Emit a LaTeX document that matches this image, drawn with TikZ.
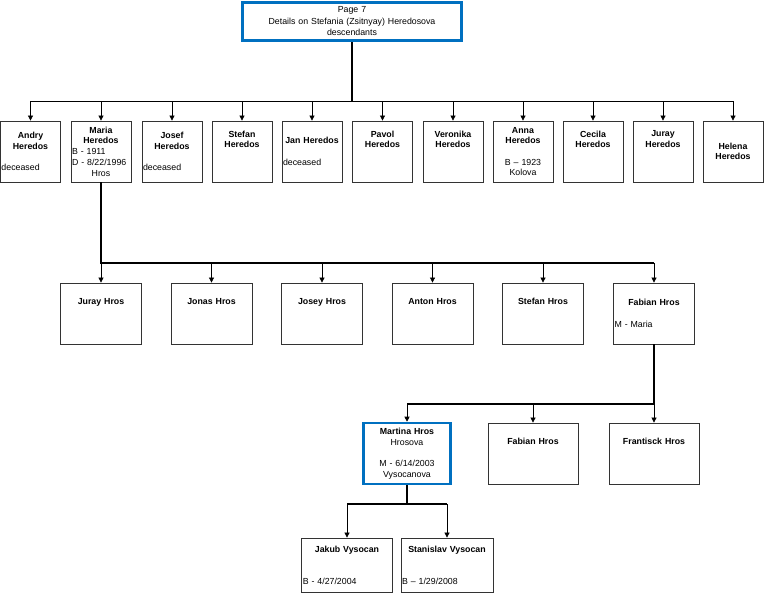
\documentclass[tikz,border=0pt]{standalone}
\usepackage{fontspec}
\setmainfont{Liberation Sans}
\usepackage{tikz}
\usetikzlibrary{arrows.meta}
\usepackage{xcolor}
\definecolor{chartblue}{RGB}{0,112,192}
\newcommand{\lft}[1]{\makebox[\hsize][l]{#1}}

\begin{document}
\begin{tikzpicture}[x=1pt,y=-1pt,
    person/.style={draw=black!80, line width=0.8pt, rectangle, align=center, inner xsep=1pt, inner ysep=0pt, minimum height=61pt, font=\fontsize{8.8}{10.7}\selectfont},
    gen1/.style={person, text width=58pt},
    gen2/.style={person, text width=79pt},
    gen3/.style={person, text width=88pt},
    gen4/.style={person, text width=88.5pt, minimum height=54pt},
    focus/.style={draw=chartblue, line width=2.6pt},
    trunk/.style={line width=1.7pt},
    bus/.style={line width=1.1pt},
    drop/.style={-{Triangle[length=5pt,width=5pt]}, line width=0.7pt}]
    \useasboundingbox (0,0) rectangle (765,601);
    % Stefania's descendants, page 7
    \node[person, focus, text width=217pt, minimum height=38.5pt, font=\fontsize{8.8}{11.5}\selectfont] (top) at (352,21.5) {Page 7\\Details on Stefania (Zsitnyay) Heredosova\\descendants};

    \node[gen1] (andry) at (30.5,151.5) {\textbf{Andry}\\\textbf{Heredos}\\\strut\\\lft{deceased}};
    \node[gen1] (maria) at (101,151.5) {\textbf{Maria}\\\textbf{Heredos}\\\lft{B - 1911}\\\lft{D - 8/22/1996}\\Hros};
    \node[gen1] (josef) at (172,151.5) {\textbf{Josef}\\\textbf{Heredos}\\\strut\\\lft{deceased}};
    \node[gen1] (stefan) at (242,151.5) {\textbf{Stefan}\\\textbf{Heredos}\\\strut\\\strut};
    \node[gen1] (jan) at (312,151.5) {\textbf{Jan Heredos}\\\strut\\\lft{deceased}};
    \node[gen1] (pavol) at (382.5,151.5) {\textbf{Pavol}\\\textbf{Heredos}\\\strut\\\strut};
    \node[gen1] (veronika) at (453,151.5) {\textbf{Veronika}\\\textbf{Heredos}\\\strut\\\strut};
    \node[gen1] (anna) at (523,151.5) {\textbf{Anna}\\\textbf{Heredos}\\\strut\\B -- 1923\\Kolova};
    \node[gen1] (cecila) at (593,151.5) {\textbf{Cecila}\\\textbf{Heredos}\\\strut\\\strut};
    \node[gen1] (juray) at (663,151.5) {\textbf{Juray}\\\textbf{Heredos}\\\strut\\\strut};
    \node[gen1] (helena) at (733,151.5) {\textbf{Helena}\\\textbf{Heredos}};

    \node[gen2] (jurayh) at (101,313.5) {\textbf{Juray Hros}\\\strut\\\strut};
    \node[gen2] (jonas) at (211.5,313.5) {\textbf{Jonas Hros}\\\strut\\\strut};
    \node[gen2] (josey) at (322,313.5) {\textbf{Josey Hros}\\\strut\\\strut};
    \node[gen2] (anton) at (432.5,313.5) {\textbf{Anton Hros}\\\strut\\\strut};
    \node[gen2] (stefanh) at (543,313.5) {\textbf{Stefan Hros}\\\strut\\\strut};
    \node[gen2] (fabian) at (654,313.5) {\textbf{Fabian Hros}\\\strut\\\lft{M - Maria}};

    \node[gen3, focus, text width=85.5pt] (martina) at (407,453.5) {\textbf{Martina Hros}\\Hrosova\\\strut\\M - 6/14/2003\\Vysocanova};
    \node[gen3] (fabianj) at (533,453.5) {\textbf{Fabian Hros}\\\strut\\\strut};
    \node[gen3] (frantisck) at (654,453.5) {\textbf{Frantisck Hros}\\\strut\\\strut};

    \node[gen4] (jakub) at (347,565) {\textbf{Jakub Vysocan}\\\strut\\\strut\\\lft{B - 4/27/2004}};
    \node[gen4, text width=90pt] (stanislav) at (447,565) {\textbf{Stanislav Vysocan}\\\strut\\\strut\\\lft{B -- 1/29/2008}};

    \coordinate (busA) at (0,101.5);
    \coordinate (busB) at (0,263);
    \coordinate (busC) at (0,404);
    \coordinate (busD) at (0,504);

    \draw[trunk] (top.south) -- (top.south |- busA);
    \draw[bus] (andry.north |- busA) -- (helena.north |- busA);
    \foreach \n in {andry,maria,josef,stefan,jan,pavol,veronika,anna,cecila,juray,helena}
        \draw[drop] (\n.north |- busA) -- (\n.north);

    \draw[trunk] (maria.south) -- (maria.south |- busB) -- (fabian.north |- busB);
    \foreach \n in {jurayh,jonas,josey,anton,stefanh,fabian}
        \draw[drop] (\n.north |- busB) -- (\n.north);

    \draw[trunk] (fabian.south) -- (fabian.south |- busC);
    \draw[bus] (martina.north |- busC) -- (fabian.south |- busC);
    \foreach \n in {martina,fabianj,frantisck}
        \draw[drop] (\n.north |- busC) -- (\n.north);

    \draw[bus] (martina.south) -- (martina.south |- busD);
    \draw[bus] (jakub.north |- busD) -- (stanislav.north |- busD);
    \foreach \n in {jakub,stanislav}
        \draw[drop] (\n.north |- busD) -- (\n.north);
\end{tikzpicture}
\end{document}
